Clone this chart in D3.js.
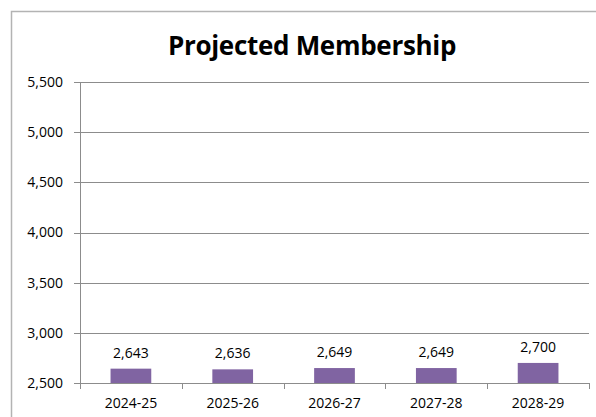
<!DOCTYPE html>
<meta charset="utf-8">
<style>
body { margin: 0; background: #fff; }
text { font-family: "Open Sans", sans-serif; fill: #000; }
.grid line { stroke: #8c8c8c; stroke-width: 1px; }
</style>
<body>
<script src="https://d3js.org/d3.v7.min.js"></script>
<script>

var years = ["2024-25", "2025-26", "2026-27", "2027-28", "2028-29"];
var members = [2643, 2636, 2649, 2649, 2700];
var yTicks = [2500, 3000, 3500, 4000, 4500, 5000, 5500];

var width = 596,
    height = 417,
    margin = {top: 82, right: 7, bottom: 34, left: 80};

var svg = d3.select("body").append("svg")
    .attr("width", width)
    .attr("height", height);

// chart area border (runs off the right and bottom edges)
svg.append("rect")
    .attr("x", 11.5)
    .attr("y", 11.5)
    .attr("width", 620)
    .attr("height", 420)
    .attr("fill", "none")
    .attr("stroke", "#b3b3b3")
    .attr("stroke-width", 1.5);

svg.append("text")
    .attr("x", 312)
    .attr("y", 55)
    .attr("text-anchor", "middle")
    .attr("font-size", 26)
    .attr("font-weight", "bold")
    .attr("letter-spacing", -0.3)
    .text("Projected Membership");

var x = d3.scaleBand()
    .domain(years)
    .range([margin.left, width - margin.right])
    .paddingInner(0.6)
    .paddingOuter(0.3);

var y = d3.scaleLinear()
    .domain([2500, 5500])
    .range([height - margin.bottom, margin.top]);

var g = svg.append("g");

// gridlines with a small tick to the left
g.append("g")
    .attr("class", "grid")
    .selectAll("line")
    .data(yTicks)
    .enter()
    .append("line")
    .attr("x1", margin.left - 6)
    .attr("x2", width - margin.right)
    .attr("y1", function(d) { return Math.round(y(d)) + 0.5; })
    .attr("y2", function(d) { return Math.round(y(d)) + 0.5; });

g.selectAll(".ylab")
    .data(yTicks)
    .enter()
    .append("text")
    .attr("class", "ylab")
    .attr("x", margin.left - 17)
    .attr("y", function(d) { return y(d); })
    .attr("dy", "0.35em")
    .attr("text-anchor", "end")
    .attr("font-size", 14)
    .text(d3.format(","));

// y axis line
g.append("line")
    .attr("x1", margin.left + 0.5)
    .attr("x2", margin.left + 0.5)
    .attr("y1", y(5500))
    .attr("y2", y(2500))
    .attr("stroke", "#8c8c8c");

// x axis ticks between categories
var xTickPos = d3.range(years.length + 1).map(function(i) {
    return margin.left + i * (width - margin.left - margin.right) / years.length;
});
g.selectAll(".xtick")
    .data(xTickPos)
    .enter()
    .append("line")
    .attr("x1", function(d) { return Math.round(d) + 0.5; })
    .attr("x2", function(d) { return Math.round(d) + 0.5; })
    .attr("y1", y(2500))
    .attr("y2", y(2500) + 6)
    .attr("stroke", "#8c8c8c");

g.selectAll(".bar")
    .data(members)
    .enter()
    .append("rect")
    .attr("class", "bar")
    .attr("x", function(d, i) { return x(years[i]); })
    .attr("width", x.bandwidth())
    .attr("y", function(d) { return y(d); })
    .attr("height", function(d) { return y(2500) - y(d); })
    .attr("fill", "#8064a2");

g.selectAll(".vlab")
    .data(members)
    .enter()
    .append("text")
    .attr("class", "vlab")
    .attr("x", function(d, i) { return x(years[i]) + x.bandwidth() / 2; })
    .attr("y", function(d) { return y(d) - 11; })
    .attr("text-anchor", "middle")
    .attr("font-size", 14)
    .text(d3.format(","));

g.selectAll(".xlab")
    .data(years)
    .enter()
    .append("text")
    .attr("class", "xlab")
    .attr("x", function(d) { return x(d) + x.bandwidth() / 2; })
    .attr("y", y(2500) + 25)
    .attr("text-anchor", "middle")
    .attr("font-size", 14)
    .text(function(d) { return d; });

</script>
